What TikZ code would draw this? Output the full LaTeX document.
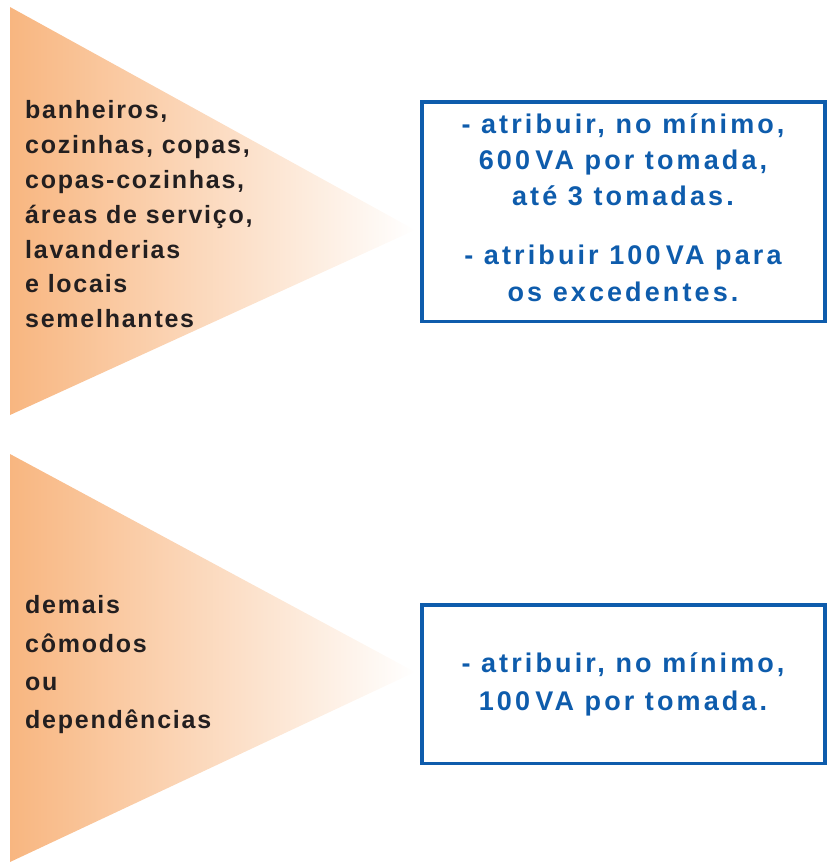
\documentclass[tikz,border=0pt]{standalone}
\usepackage{fontspec}
\newfontfamily\blkfont[LetterSpace=7]{Liberation Sans}
\newfontfamily\blufont[LetterSpace=11.5]{Liberation Sans}
\definecolor{tri}{RGB}{248,182,128}
\definecolor{bl}{RGB}{14,92,172}
\definecolor{txt}{RGB}{35,31,32}
\begin{document}
\begin{tikzpicture}[x=1pt,y=-1pt,
  lbl/.style={anchor=base west,inner sep=0pt,text=txt,font=\blkfont\bfseries\fontsize{25}{25}\selectfont},
  rule/.style={anchor=base,inner sep=0pt,text=bl,font=\blufont\bfseries\fontsize{27}{27}\selectfont},
  box/.style={draw=bl,line width=3.5pt}]
\useasboundingbox (0,0) rectangle (827,863);
% triangles
\shade[left color=tri,right color=white] (10,7) -- (415,230) -- (10,415) -- cycle;
\shade[left color=tri,right color=white] (10,454) -- (415,672) -- (10,862) -- cycle;
% boxes
\draw[box] (421.75,101.75) rectangle (825,321.25);
\draw[box] (421.75,604.75) rectangle (825,763.25);
% black texts, top
\node[lbl] (a1) at (25,118) {banheiros,};
\node[lbl] (a2) at (25,153) {cozinhas, copas,};
\node[lbl] (a3) at (25,188) {copas-cozinhas,};
\node[lbl] (a4) at (25,223) {áreas de serviço,};
\node[lbl] (a5) at (25,258) {lavanderias};
\node[lbl] (a6) at (25,292) {e locais};
\node[lbl] (a7) at (25,327) {semelhantes};
% black texts, bottom
\node[lbl] (b1) at (25,613) {demais};
\node[lbl] (b2) at (25,652) {cômodos};
\node[lbl] (b3) at (25,690) {ou};
\node[lbl] (b4) at (25,728) {dependências};
% blue texts, top box
\node[rule] (c1) at (623,133) {- atribuir, no mínimo,};
\node[rule] (c2) at (623,169) {600\hspace{0.2em}VA por tomada,};
\node[rule] (c3) at (623,205) {até 3 tomadas.};
\node[rule] (c4) at (623,264) {- atribuir 100\hspace{0.2em}VA para};
\node[rule] (c5) at (623,301) {os excedentes.};
% blue texts, bottom box
\node[rule] (d1) at (623,672) {- atribuir, no mínimo,};
\node[rule] (d2) at (623,710) {100\hspace{0.2em}VA por tomada.};
\end{tikzpicture}
\end{document}
